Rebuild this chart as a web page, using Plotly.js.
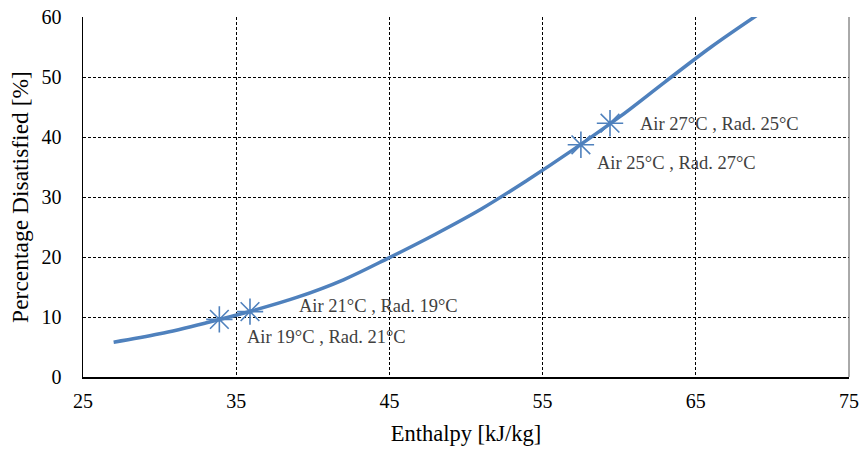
<!DOCTYPE html>
<html>
<head>
<meta charset="utf-8">
<script src="https://cdn.plot.ly/plotly-3.0.1.min.js"></script>
<style>html,body{margin:0;padding:0;background:#fff;}#chart{width:861px;height:450px;}</style>
</head>
<body>
<div id="chart"></div>
<script>
// Curve: enthalpy [kJ/kg] vs percentage dissatisfied [%]
const curveEnthalpy = [27, 30, 33, 36, 39, 42, 45, 48, 51, 54, 57, 60, 63, 66, 69];
const curvePD = [5.8, 7.2, 9.0, 11.0, 13.3, 16.2, 19.9, 23.8, 28.0, 32.8, 37.9, 43.3, 49.2, 55.0, 60.3];

// Marked cases
const caseEnthalpy = [33.9, 35.9, 57.5, 59.4];
const casePD = [9.6, 10.9, 38.7, 42.3];
const caseLabels = ["Air 19°C , Rad. 21°C", "Air 21°C , Rad. 19°C", "Air 25°C , Rad. 27°C", "Air 27°C , Rad. 25°C"];
// label anchor positions (data coords)
const labelX = [35.6, 39.0, 58.4, 61.2];
const labelY = [6.7, 11.8, 35.7, 42.2];

const xTicks = [25, 35, 45, 55, 65, 75];
const yTicks = [0, 10, 20, 30, 40, 50, 60];

const blue = '#4F81BD';
const serif = '"Liberation Serif", "Times New Roman", serif';

const traces = [
  {
    x: curveEnthalpy, y: curvePD, type: 'scatter', mode: 'lines',
    line: {color: blue, width: 3.5, shape: 'spline'}, hoverinfo: 'skip'
  },
  {
    x: caseEnthalpy, y: casePD, type: 'scatter', mode: 'markers',
    marker: {symbol: 'asterisk-open', size: 22, color: blue, line: {color: blue, width: 1.6}}
  }
];

const annotations = caseLabels.map((t, i) => ({
  x: labelX[i], y: labelY[i], xref: 'x', yref: 'y', text: t,
  showarrow: false, xanchor: 'left', yanchor: 'middle',
  font: {family: serif, size: 18.5, color: '#404040'}
}));

const layout = {
  width: 861, height: 450,
  margin: {l: 83, r: 12, t: 17, b: 73},
  paper_bgcolor: '#fff', plot_bgcolor: '#fff',
  showlegend: false,
  font: {family: serif, size: 20, color: '#000'},
  xaxis: {
    range: [25, 75], tickvals: xTicks, ticktext: xTicks.map(String),
    showline: true, linecolor: '#000', linewidth: 1.5,
    showgrid: true, gridcolor: '#000', gridwidth: 1, griddash: '3px,2px',
    zeroline: false, ticks: '', ticklen: 0, ticklabelstandoff: 5,
    tickfont: {family: serif, size: 20, color: '#000'},
    title: {text: 'Enthalpy [kJ/kg]', font: {family: serif, size: 22.5, color: '#000'}, standoff: 14}
  },
  yaxis: {
    range: [0, 60], tickvals: yTicks, ticktext: yTicks.map(String),
    showline: true, linecolor: '#000', linewidth: 1.5,
    showgrid: true, gridcolor: '#000', gridwidth: 1, griddash: '3px,2px',
    zeroline: false, ticks: '', ticklen: 0, ticklabelstandoff: 16,
    tickfont: {family: serif, size: 20, color: '#000'},
    title: {text: 'Percentage Disatisfied [%]', font: {family: serif, size: 23.5, color: '#000'}, standoff: 6}
  },
  shapes: [
    {type: 'line', xref: 'paper', yref: 'paper', x0: 1, x1: 1, y0: 0, y1: 1, line: {color: '#555', width: 1}}
  ],
  annotations: annotations
};

Plotly.newPlot('chart', traces, layout, {displayModeBar: false, staticPlot: true});
</script>
</body>
</html>
